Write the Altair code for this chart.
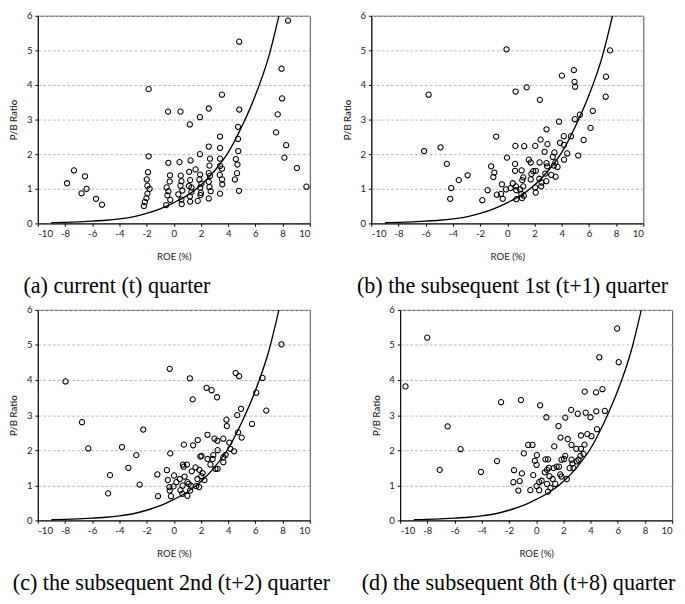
import altair as alt
import pandas as pd

# ---- data ----
roe_a = [-7.85, -7.34, -6.53, -6.78, -6.41, -5.72, -5.28,
         -1.85, -1.85, -1.9, -1.99, -1.94, -1.78, -1.94, -2.01, -2.13, -2.2,
         -0.42, -0.4, -0.28, -0.3, -0.53, -0.4, -0.47, -0.26, -0.56,
         0.49, 0.42, 0.51, 0.56, 0.49, 0.63, 0.33, 0.56, 0.58,
         1.18, 1.23, 1.13, 1.2, 1.11, 1.3, 1.3, 1.18, 1.2, 1.6, 1.76,
         1.92, 1.92, 1.94, 1.88, 2.03, 1.94, 1.99, 1.96,
         2.57, 2.57, 2.66, 2.62, 2.57, 2.66, 2.57, 2.62, 2.71, 2.57,
         3.54, 3.4, 3.4, 3.4, 3.4, 3.54, 3.38, 3.55, 3.56, 3.4,
         4.81, 4.81, 4.72, 4.72, 4.74, 4.56, 4.68, 4.65, 4.49, 4.79,
         8.4, 7.92, 7.96, 7.64, 7.52, 8.26, 8.13, 9.05, 9.75]
pb_a = [1.16, 1.53, 1.36, 0.87, 1.0, 0.71, 0.54,
        3.88, 1.94, 1.48, 1.27, 1.09, 1.0, 0.86, 0.73, 0.62, 0.5,
        3.23, 1.75, 1.39, 1.21, 1.04, 0.93, 0.81, 0.68, 0.53,
        3.23, 1.77, 1.38, 1.22, 1.09, 0.95, 0.84, 0.69, 0.56,
        2.86, 1.82, 1.49, 1.25, 1.08, 1.04, 0.91, 0.78, 0.63, 1.56, 0.65,
        3.07, 2.0, 1.41, 1.27, 1.15, 1.03, 0.88, 0.82,
        3.32, 2.22, 1.87, 1.67, 1.45, 1.37, 1.2, 1.05, 0.93, 0.72,
        3.72, 2.51, 2.18, 1.87, 1.66, 1.58, 1.4, 1.27, 1.13, 0.86,
        5.25, 3.29, 2.79, 2.44, 2.09, 1.86, 1.7, 1.45, 1.27, 0.94,
        5.86, 4.47, 3.61, 3.15, 2.63, 2.26, 1.9, 1.6, 1.06]

roe_b = [-5.79, -6.12, -4.91, -4.45, -3.57, -2.92, -4.13, -4.2,
         -0.82, -1.19, -0.96, -1.03, -1.45, -1.84, -0.77, -0.4, -0.1, -0.47, -0.34,
         -0.06, -0.03, 0.61, 0.59, 0.57, 0.57, 0.4, 0.24, 0.64, 0.66, 0.66,
         1.42, 1.24, 1.05, 1.1, 1.17, 1.17, 0.94, 1.03, 1.21, 1.08,
         2.39, 2.05, 1.58, 1.72, 1.77, 1.9, 2.09, 1.72, 2.05, 2.09,
         2.44, 2.37, 2.35, 2.49, 2.51,
         2.88, 2.95, 2.74, 2.88, 2.93, 2.79, 2.86,
         3.8, 3.87, 3.46, 3.34, 3.53, 3.42, 3.69, 3.23, 3.55,
         4.01, 4.15, 4.17, 4.17, 4.4, 4.68, 4.89, 4.94, 4.98, 4.96, 5.33, 5.21,
         5.61, 6.12, 6.28, 7.23, 7.25, 7.55]
pb_b = [3.72, 2.09, 2.2, 1.72, 1.25, 1.39, 1.02, 0.71,
        2.51, 1.65, 1.47, 1.34, 0.96, 0.67, 0.83, 1.13, 0.98, 0.85, 0.71,
        5.03, 1.9, 3.81, 2.24, 1.72, 1.52, 1.16, 1.02, 1.07, 0.96, 0.7,
        3.93, 2.23, 1.53, 1.25, 1.33, 1.07, 0.98, 0.85, 0.8, 0.73,
        3.57, 2.24, 1.84, 1.76, 1.43, 1.51, 1.52, 1.27, 1.04, 0.89,
        2.42, 1.76, 1.29, 1.07, 1.18,
        2.72, 2.29, 2.07, 1.74, 1.65, 1.44, 1.22,
        2.94, 2.33, 2.05, 1.92, 1.76, 1.67, 1.63, 1.4, 1.35,
        4.27, 2.52, 2.27, 1.84, 2.02, 2.52, 4.43, 4.09, 3.95, 3.01, 3.14, 1.96,
        2.41, 2.76, 3.25, 3.66, 4.24, 5.0]

roe_c = [-7.96, -6.75, -6.29, -4.69, -4.83, -3.81, -3.34, -2.76, -2.25, -2.51,
         -1.21, -1.16, -0.3, -0.26, -0.51, -0.44, -0.32, -0.3, -0.21,
         0.02, -0.02, 0.19, 0.44, 0.49, 0.65, 0.67, 0.72, 0.74, 0.63, 0.79,
         0.97, 1.0, 1.09, 1.18, 1.25, 1.0, 1.2, 1.32, 1.42, 1.39,
         1.6, 1.65, 1.76, 1.74, 1.88, 1.86, 1.95, 2.04, 2.02, 2.11, 2.25,
         2.41, 2.48, 2.48, 2.69, 2.78, 2.85, 2.9, 2.99, 3.18, 3.2, 3.22, 3.22, 3.06,
         3.64, 3.64, 3.64, 3.81, 3.87, 3.9, 4.08, 4.43, 4.15,
         4.55, 4.8, 4.66, 4.73, 4.94, 4.99, 5.75, 6.06, 6.52, 6.8, 7.91]
pb_c = [3.96, 2.8, 2.05, 1.29, 0.77, 2.09, 1.5, 1.86, 2.59, 1.02,
        1.31, 0.69, 4.32, 1.91, 1.43, 1.15, 0.95, 0.85, 0.69,
        1.28, 0.97, 1.09, 1.18, 0.86, 0.99, 1.59, 1.53, 2.16, 0.76, 1.25,
        1.59, 1.09, 1.04, 4.05, 0.99, 0.7, 0.85, 1.4, 2.14, 3.45,
        1.51, 0.98, 2.29, 1.18, 1.44, 0.95, 1.82, 1.84, 1.26, 1.35, 1.15,
        3.78, 2.44, 1.75, 1.59, 3.71, 1.75, 1.86, 2.33, 3.51, 2.27, 2.0, 1.47, 1.47,
        2.33, 1.66, 1.8, 1.87, 2.87, 2.69, 2.22, 1.97, 2.04,
        4.2, 4.11, 3.0, 2.51, 3.18, 2.36, 2.75, 3.64, 4.06, 3.13, 5.02]

roe_d = [-9.61, -8.01, -7.09, -6.51, -5.56, -4.06, -2.88, -2.58,
         -1.12, -1.63, -1.68, -1.31, -1.21, -1.05, -0.91, -0.59, -0.27, -0.43, -0.22, -0.1,
         0.03, 0.05, 0.03, 0.22, 0.4, 0.22, 0.29, 0.75, 0.68, 0.87, 0.64, 0.8, 0.8, 0.94, 0.98, 0.87,
         1.21, 1.05, 1.33, 1.28, 1.4, 1.5, 1.64, 1.68, 1.77, 1.79, 1.86, 1.86,
         2.14, 2.14, 2.05, 2.25, 2.32, 2.46, 2.57, 2.6, 2.6, 2.67, 2.74,
         3.06, 2.95, 2.97, 3.11, 3.29, 3.29, 3.25, 3.55, 3.48, 3.57, 3.64, 3.76,
         3.99, 4.06, 4.4, 4.42, 4.47, 4.64, 4.87, 5.05, 5.95, 6.07]
pb_d = [3.82, 5.21, 1.44, 2.68, 2.03, 1.38, 1.69, 3.37,
        3.43, 1.43, 1.09, 0.85, 1.12, 1.34, 1.91, 2.15, 2.15, 0.86, 1.29, 1.7,
        1.58, 1.86, 0.98, 1.09, 1.13, 0.86, 3.28, 2.94, 1.74, 1.74, 1.37, 1.44, 1.04, 1.5, 1.26, 0.82,
        1.18, 0.93, 2.11, 1.49, 1.04, 1.53, 2.69, 1.53, 1.31, 2.36, 1.73, 1.25,
        2.93, 1.84, 1.75, 1.18, 2.32, 1.49, 3.15, 2.15, 1.73, 1.62, 1.49,
        3.04, 2.04, 1.68, 1.73, 2.42, 2.04, 1.84, 2.16, 1.89, 3.67, 3.07, 2.46,
        2.94, 2.4, 3.65, 3.11, 2.6, 4.65, 3.74, 3.12, 5.47, 4.51]

# curve (same in every panel)
curve_roe = [-9.0, -8.0, -7.0, -6.0, -5.0, -4.0, -3.0, -2.0, -1.0, 0.0,
             1.0, 2.0, 3.0, 4.0, 5.0, 6.0, 7.0, 7.73]
curve_pb = [0.02, 0.03, 0.045, 0.065, 0.09, 0.13, 0.19, 0.29, 0.42, 0.60,
            0.81, 1.11, 1.52, 2.05, 2.80, 3.70, 4.85, 6.0]

captions = ["(a) current (t) quarter",
            "(b) the subsequent 1st (t+1) quarter",
            "(c) the subsequent 2nd (t+2) quarter",
            "(d) the subsequent 8th (t+8) quarter"]
caption_dx = [-15, -15, -26, -40]

x_ticks = list(range(-10, 11, 2))
y_ticks = list(range(0, 7))

W = 283
H_TOP, H_BOT = 216, 219
AXFONT = "Lato"
LBL = "toString(datum.value)"


def panel(roe, pb, caption, dx, h):
    pts = pd.DataFrame({"roe": roe, "pb": pb})
    cur = pd.DataFrame({"roe": curve_roe, "pb": curve_pb})
    xenc = alt.X("roe:Q", scale=alt.Scale(domain=[-10, 10], nice=False),
                 axis=alt.Axis(values=x_ticks, title="ROE (%)", grid=False,
                               labelExpr=LBL,
                               tickSize=3, labelPadding=3, titlePadding=14,
                               domainColor="black", tickColor="black",
                               labelFont=AXFONT, labelFontSize=10,
                               titleFont=AXFONT, titleFontSize=10,
                               titleFontWeight="normal", labelColor="#222",
                               titleColor="#222"))
    yenc = alt.Y("pb:Q", scale=alt.Scale(domain=[0, 6], nice=False),
                 axis=alt.Axis(values=y_ticks, title="P/B Ratio", grid=True,
                               labelExpr=LBL,
                               gridDash=[3, 2], gridColor="#b8b8b8",
                               tickSize=3, labelPadding=3, titlePadding=8,
                               domainColor="black", tickColor="black",
                               labelFont=AXFONT, labelFontSize=10,
                               titleFont=AXFONT, titleFontSize=10,
                               titleFontWeight=500, labelColor="#222",
                               titleColor="#222"))
    p = alt.Chart(pts).mark_point(shape="circle", filled=False, size=30,
                                  strokeWidth=1.05, color="black", opacity=1
                                  ).encode(x=xenc, y=yenc)
    c = alt.Chart(cur).mark_line(color="black", strokeWidth=1.4,
                                 interpolate="monotone", clip=True
                                 ).encode(x=xenc, y=yenc)
    return alt.layer(c, p).properties(
        width=W, height=h,
        title=alt.TitleParams(text=caption, orient="bottom", anchor="start",
                              frame="group", dx=dx, offset=14,
                              font="Liberation Serif", fontSize=23,
                              fontWeight="normal", color="black"))


pa = panel(roe_a, pb_a, captions[0], caption_dx[0], H_TOP)
pb_ = panel(roe_b, pb_b, captions[1], caption_dx[1], H_TOP)
pc = panel(roe_c, pb_c, captions[2], caption_dx[2], H_BOT)
pd_ = panel(roe_d, pb_d, captions[3], caption_dx[3], H_BOT)

chart = alt.vconcat(
    alt.hconcat(pa, pb_, spacing=31),
    alt.hconcat(pc, pd_, spacing=31),
    spacing=6,
).properties(
    padding={"top": -10, "left": 0, "right": 0, "bottom": 0}
).configure_view(stroke="#444", strokeWidth=1)

chart.save("out.html", embed_options={"renderer": "svg", "actions": False})
